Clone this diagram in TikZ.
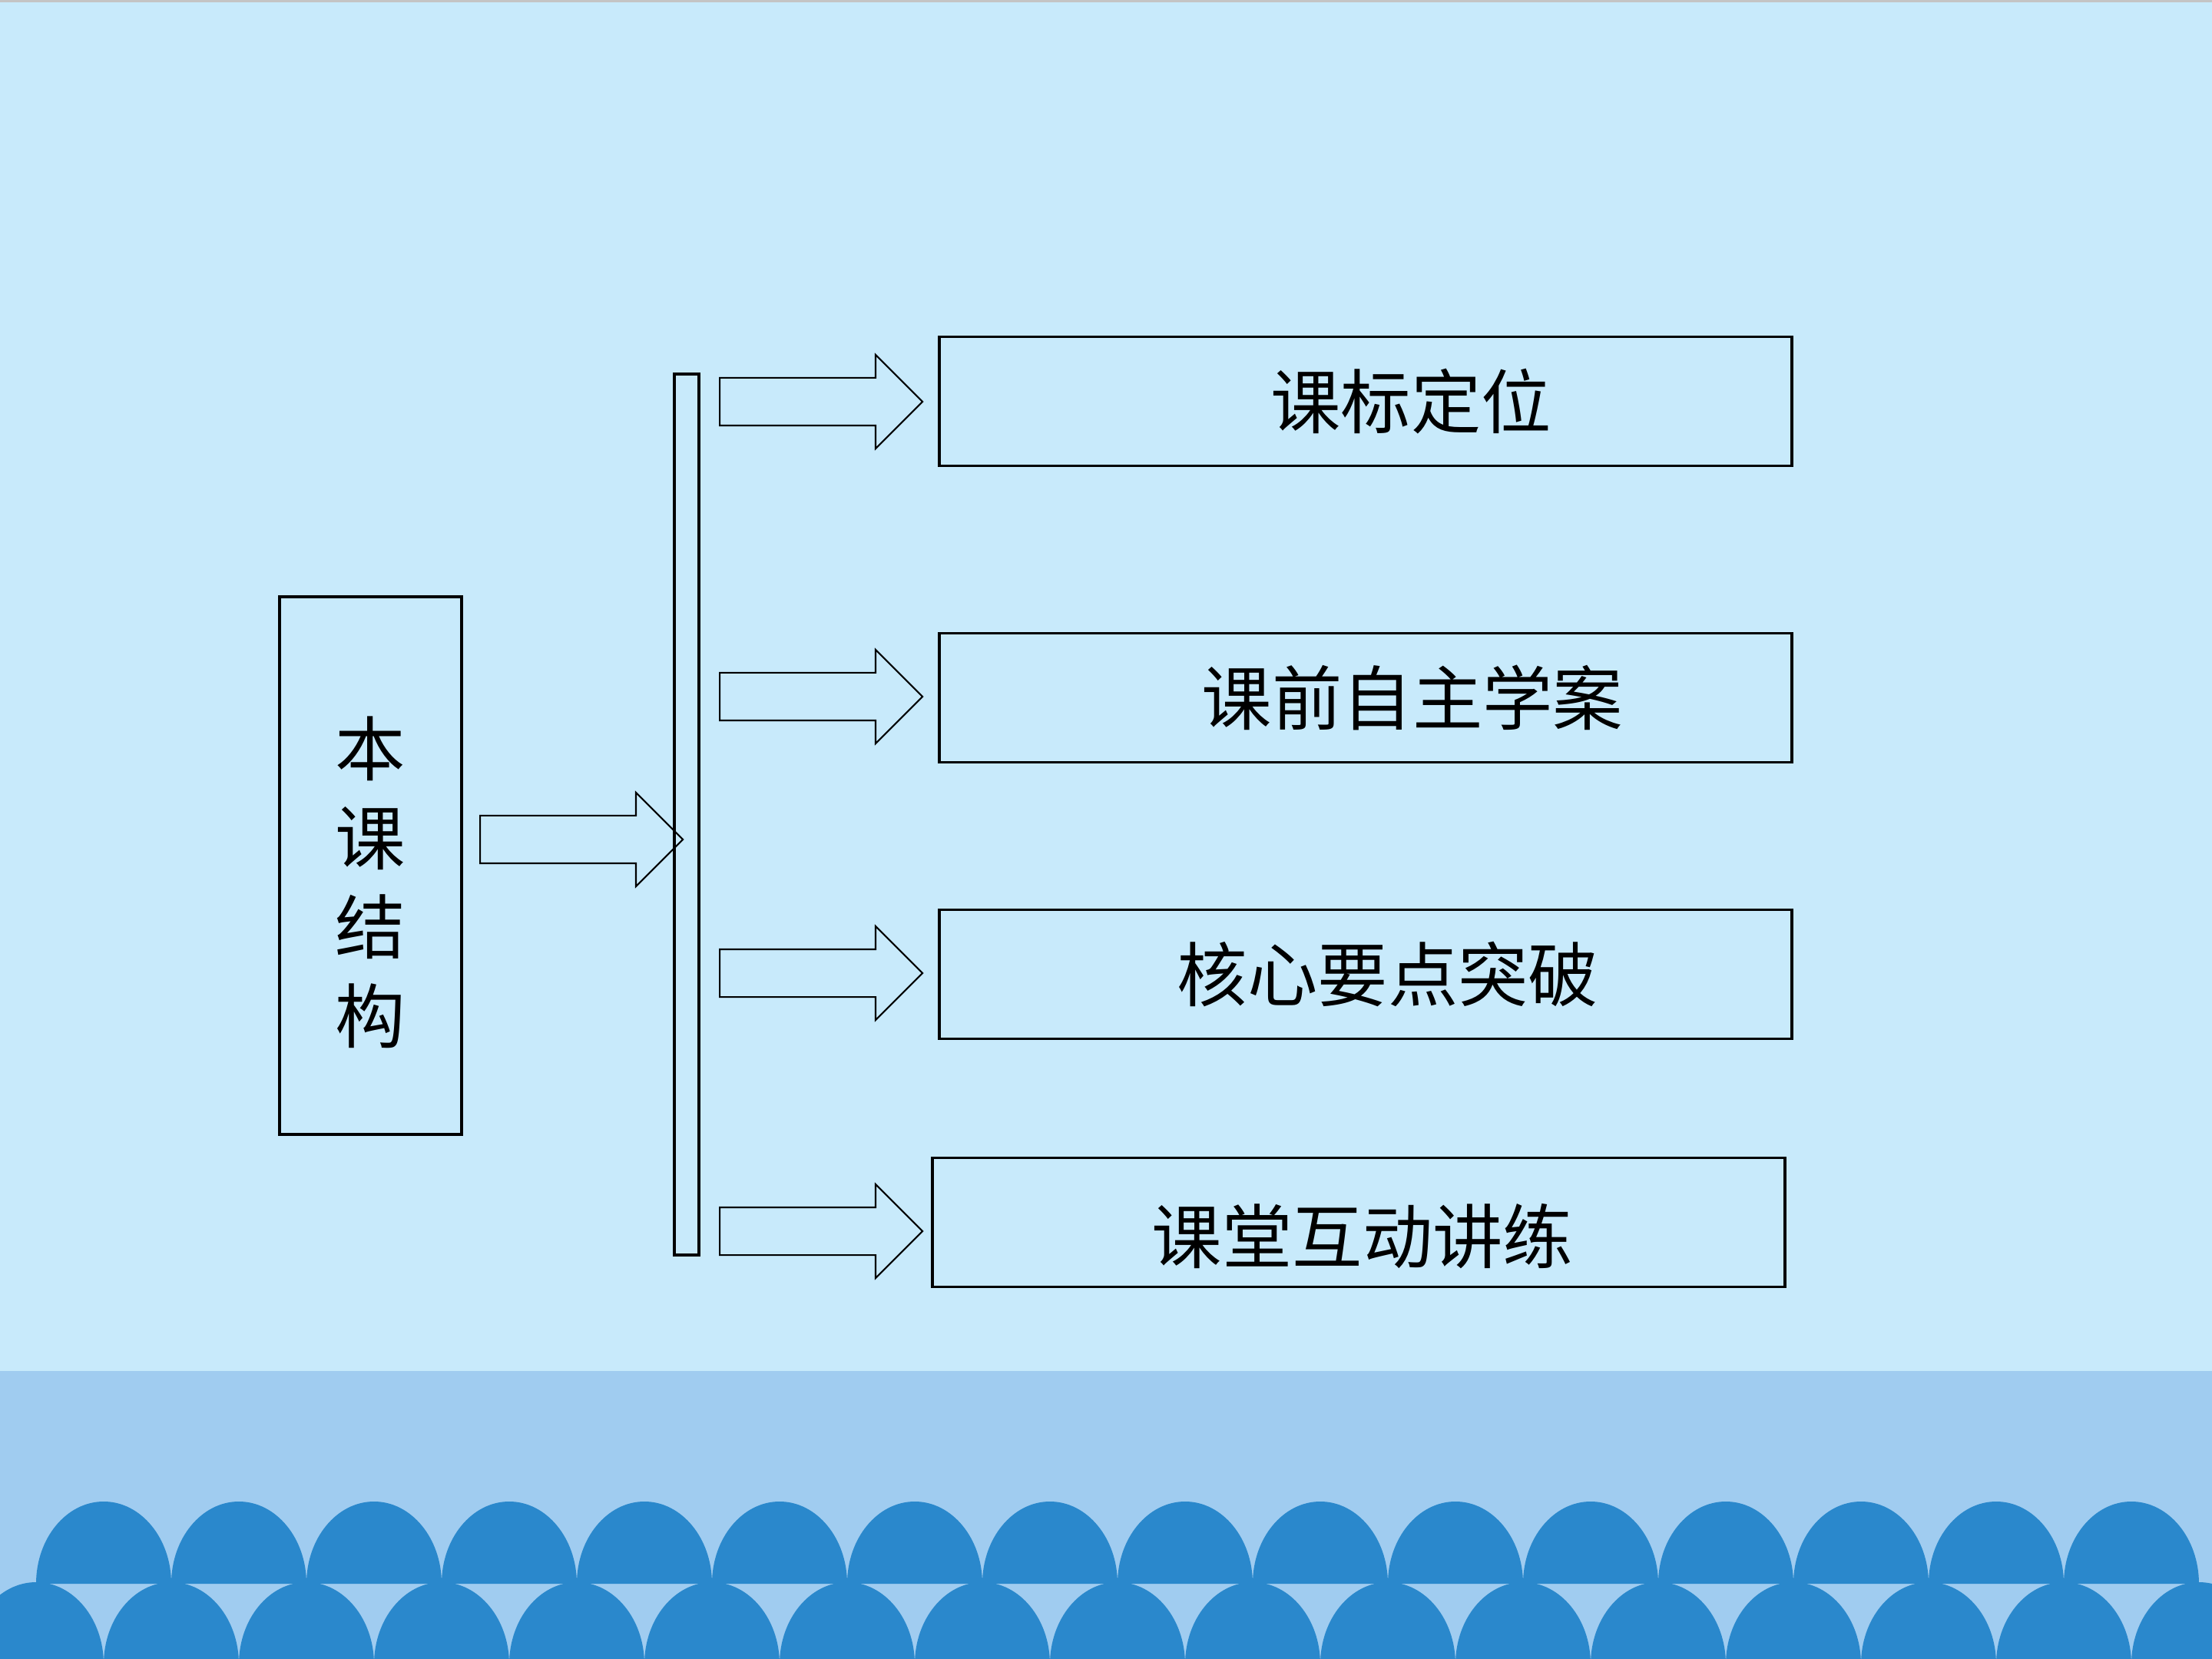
\documentclass[tikz,border=0pt]{standalone}
\usepackage{fontspec}
\newfontfamily\cjk{Noto Sans CJK SC}
\usetikzlibrary{positioning,shapes.arrows}
\definecolor{sky}{HTML}{C8EAFB}
\definecolor{shore}{HTML}{A0CCF0}
\definecolor{wave}{HTML}{2A88CC}
\definecolor{rim}{HTML}{C4C4C4}
\tikzset{
  %% nodes
  box/.style        = {draw=black, line width=0.9pt, inner sep=0pt,
                       align=center, font=\cjk\fontsize{26}{33}\selectfont},
  rail/.style       = {draw=black, line width=0.9pt, inner sep=0pt,
                       minimum width=3.2mm, minimum height=114.7mm},
  txt/.style        = {inner sep=0pt, align=center,
                       font=\cjk\fontsize{26}{33}\selectfont},
  %% arrows
  blockarrow/.style = {single arrow, draw=black, line width=0.6pt,
                       inner xsep=0pt, inner ysep=3mm, minimum height=26.4mm,
                       single arrow head extend=3mm, single arrow tip angle=90,
                       anchor=tail},
}

\begin{document}
\begin{tikzpicture}
\useasboundingbox (0,0) rectangle (28.8,-21.6);

%% background
\fill[sky] (0,0) rectangle (28.8,-17.85);
\fill[shore] (0,-17.85) rectangle (28.8,-21.6);
\fill[rim] (0,0) rectangle (28.8,-0.03);
\begin{scope}
  \clip (0,0) rectangle (28.8,-21.6);
  \foreach \i in {0,...,15}
    \fill[wave] ({0.47+1.76*\i},-20.62) arc[start angle=180, end angle=0,
      x radius=0.88, y radius=1.07] -- cycle;
  \foreach \i in {0,...,16}
    \fill[wave] ({-0.41+1.76*\i},-21.67) arc[start angle=180, end angle=0,
      x radius=0.88, y radius=1.07] -- cycle;
\end{scope}

%% left
\node[box, minimum width=23.7mm, minimum height=70mm] (lesson) at (4.825,-11.27) {};
\node[txt] (lesson-text) at ([yshift=-2.2mm]lesson.center) {本\\课\\结\\构};
\node[rail] (bar) at (8.94,-10.605) {};

%% right
\node[box, minimum width=111mm, minimum height=16.8mm] (std)   at (17.78,-5.225)
   {\hspace*{11.8mm}课标定位};
\node[box, minimum width=111mm, minimum height=16.8mm] (pre)   at (17.78,-9.085)
   {\hspace*{12.2mm}课前自主学案};
\node[box, minimum width=111mm, minimum height=16.8mm] (core)  at (17.78,-12.685)
   {\hspace*{5.8mm}核心要点突破};
\node[box, minimum width=111mm, minimum height=16.8mm] (drill) at (17.69,-15.915)
   {\hspace*{1mm}\raisebox{-1.8mm}[\height][\depth]{课堂互动讲练}};

%% arrows
\node[blockarrow] (lead)     at (6.24,-10.93) {};
\node[blockarrow] (to-std)   at (9.36,-5.23)  {};
\node[blockarrow] (to-pre)   at (9.36,-9.07)  {};
\node[blockarrow] (to-core)  at (9.36,-12.67) {};
\node[blockarrow] (to-drill) at (9.36,-16.03) {};

\end{tikzpicture}
\end{document}
